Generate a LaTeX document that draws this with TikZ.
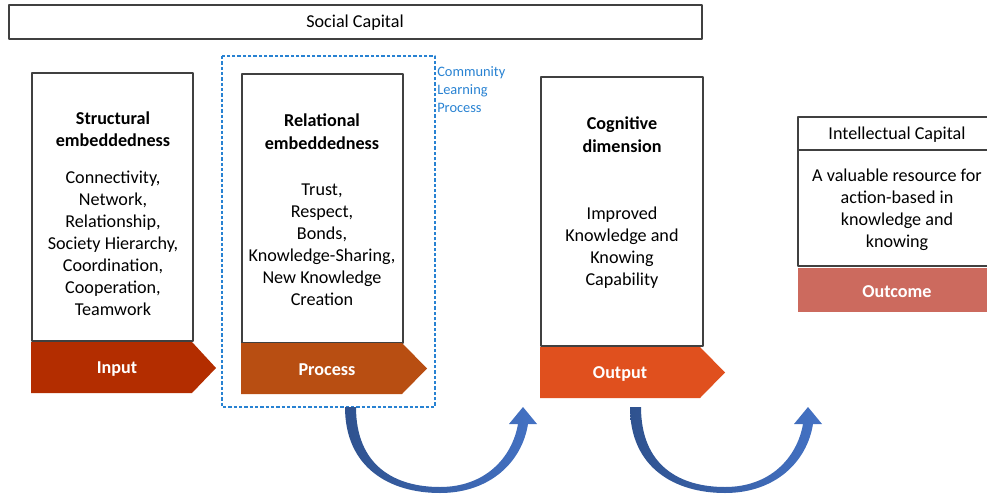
\documentclass[tikz,border=0pt]{standalone}
\usepackage{fontspec}
\setmainfont{Carlito}
\definecolor{frame}{RGB}{64,64,64}
\definecolor{inred}{RGB}{179,45,0}
\definecolor{procor}{RGB}{184,78,18}
\definecolor{outor}{RGB}{224,80,30}
\definecolor{outcm}{RGB}{204,106,94}
\definecolor{commblue}{RGB}{40,130,210}
\definecolor{arrdark}{RGB}{47,82,143}
\definecolor{arrlight}{RGB}{68,114,196}
\tikzset{
  box/.style={draw=frame,line width=1.1pt,fill=white},
  txt/.style={align=center,inner sep=0pt,font=\fontsize{13.6}{16.5}\selectfont},
  head/.style={txt,font=\fontsize{13.6}{16.8}\selectfont\bfseries},
  tag/.style={txt,text=white,font=\fontsize{13.6}{16.5}\selectfont\bfseries},
}
\begin{document}
\begin{tikzpicture}[x=0.75pt,y=-0.75pt,line join=round]
\useasboundingbox (0,0) rectangle (987,495);
% social capital bar
\draw[box] (9,5) rectangle (702,39);
\node[txt] (sc) at (355,22.5) {Social Capital};
% community learning frame
\draw[commblue,dashed,line width=0.8pt,dash pattern=on 2.5pt off 1.5pt] (222,56) rectangle (435,407);
\node[txt,anchor=north west,text=commblue,font=\fontsize{10.8}{13.5}\selectfont,align=left] (clp) at (437,66.5) {Community\\Learning\\Process};
% boxes
\draw[box] (32,73) rectangle (193,341);
\draw[box] (242,74) rectangle (403,343);
\draw[box] (541,77) rectangle (703,346);
\node[head] (s1) at (113,129.5) {Structural\\embeddedness};
\node[txt] (b1) at (113,243) {Connectivity,\\Network,\\Relationship,\\Society Hierarchy,\\Coordination,\\Cooperation,\\Teamwork};
\node[head] (s2) at (322,131.5) {Relational\\embeddedness};
\node[txt] (b2) at (322,244.5) {Trust,\\Respect,\\Bonds,\\Knowledge-Sharing,\\New Knowledge\\Creation};
\node[head] (s3) at (622,134.5) {Cognitive\\dimension};
\node[txt] (b3) at (622,248) {Improved\\Knowledge and\\Knowing\\Capability};
% chevrons
\fill[inred] (31,342) -- (192,342) -- (216,368) -- (192,393) -- (31,393) -- cycle;
\fill[procor] (241,343) -- (402,343) -- (427,368.5) -- (402,394) -- (241,394) -- cycle;
\fill[outor] (540,347) -- (700,347) -- (725,372.5) -- (700,398) -- (540,398) -- cycle;
\node[tag] (in) at (117,369.5) {Input};
\node[tag] (pr) at (327,369.5) {Process};
\node[tag] (out) at (620,373.5) {Output};
% intellectual capital
\draw[box] (798,117) rectangle (992,150);
\draw[box] (798,150) rectangle (992,266);
\fill[outcm] (798,268) rectangle (987,312);
\node[txt] (ic) at (897,134.5) {Intellectual Capital};
\node[txt] (icb) at (897,210) {A valuable resource for\\action-based in\\knowledge and\\knowing};
\node[tag] (oc) at (897,291.5) {Outcome};
% curved arrows
\foreach \dx in {0,285}{
  \shade[left color=arrdark,right color=arrlight,shift={(\dx,0)}]
    (345,407) .. controls (345,468) and (390,493) .. (440,493)
    .. controls (490,493) and (522,462) .. (528,424)
    -- (537,424) -- (523,407) -- (509,424) -- (518,424)
    .. controls (512,458) and (485,487) .. (440,487)
    .. controls (395,487) and (356,466) .. (356,407) -- cycle;
}
\end{tikzpicture}
\end{document}
